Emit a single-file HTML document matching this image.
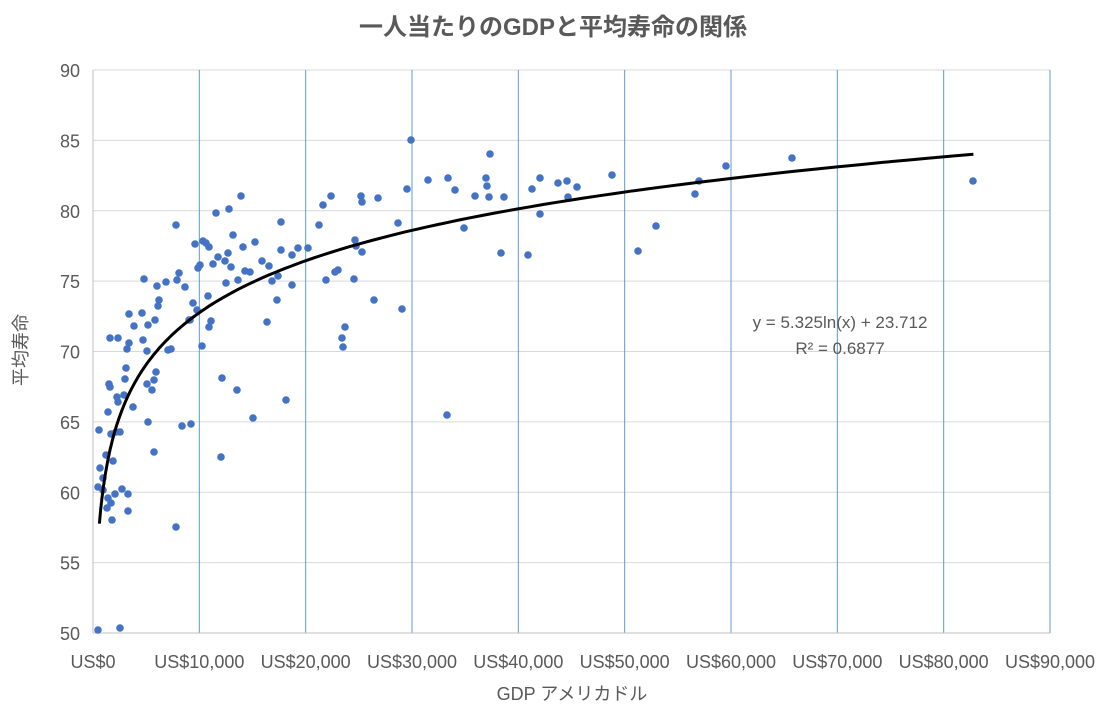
<!DOCTYPE html><html><head><meta charset="utf-8"><style>body{margin:0;background:#fff}svg{display:block}text{font-family:"Liberation Sans","Noto Sans CJK JP",sans-serif;fill:#595959}</style></head><body>
<svg id="s" width="1116" height="719" xmlns="http://www.w3.org/2000/svg">
<text x="553" y="35" text-anchor="middle" font-size="24" font-weight="bold">一人当たりのGDPと平均寿命の関係</text>
<g id="grid"></g>
<g id="pts" fill="#4472c4"></g>
<path id="trend" fill="none" stroke="#000" stroke-width="3"/>
<text x="840" y="328" text-anchor="middle" font-size="17">y = 5.325ln(x) + 23.712</text>
<text x="840" y="354" text-anchor="middle" font-size="17">R² = 0.6877</text>
<text id="xt" x="572" y="700" text-anchor="middle" font-size="18">GDP アメリカドル</text>
<text transform="translate(27,350) rotate(-90)" text-anchor="middle" font-size="18">平均寿命</text>
</svg>
<script>
var ns="http://www.w3.org/2000/svg",s=document.getElementById('s'),g=document.getElementById('grid');
function el(p,t,a,txt){var e=document.createElementNS(ns,t);for(var k in a)e.setAttribute(k,a[k]);if(txt!=null)e.textContent=txt;p.appendChild(e);return e}
var L=93,R=1050,T=70,B=633;
for(var i=0;i<=8;i++){var y=T+i*(B-T)/8;if(i<8)el(g,'line',{x1:L,x2:R,y1:y,y2:y,stroke:'#d9d9d9'});el(g,'text',{x:80,y:y+7,'text-anchor':'end','font-size':18},90-5*i)}
for(var i=0;i<=9;i++){var x=L+i*(R-L)/9;if(i>0)el(g,'line',{x1:x,x2:x,y1:T,y2:B,stroke:'#5b9bd5'});el(g,'text',{x:x,y:668,'text-anchor':'middle','font-size':18},'US$'+(i*10000).toLocaleString('en-US'))}
el(g,'line',{x1:L,x2:L,y1:T,y2:B,stroke:'#bfbfbf'});el(g,'line',{x1:L,x2:R,y1:B,y2:B,stroke:'#bfbfbf'});
var P=[98,630,120,628,99,430,98,487,100,468,103,490,103,478,106,455,107,508,108,498,108,412,109,384,110,387,110,338,111,503,111,434,112,520,113,461,115,494,116,432,117,397,118,402,118,338,120,432,122,489,124,395,125,379,126,368,127,349,128,494,128,511,129,343,129,314,133,407,134,326,142,313,143,340,144,279,147,384,147,351,148,422,148,325,152,390,154,380,154,452,155,320,156,372,157,286,158,306,159,300,166,282,168,350,171,349,176,527,176,225,177,280,179,273,182,426,185,287,189,320,190,320,191,424,193,303,195,244,197,310,198,268,200,265,202,346,203,241,206,243,208,296,209,247,209,327,211,321,213,264,216,213,218,257,221,457,222,378,225,261,226,283,228,253,229,209,231,267,233,235,237,390,238,280,241,196,243,247,245,271,250,272,255,242,253,418,262,261,267,322,269,266,272,281,277,300,278,276,281,222,281,250,286,400,292,285,292,255,298,248,308,248,319,225,323,205,326,280,331,196,335,272,338,270,342,338,343,347,345,327,354,279,355,240,356,246,361,196,362,202,362,252,374,300,378,198,398,223,402,309,407,189,411,140,428,180,447,415,448,178,455,190,464,228,475,196,486,178,487,186,489,197,490,154,504,197,501,253,528,255,532,189,540,214,540,178,558,183,567,181,568,197,577,187,612,175,638,251,656,226,695,194,699,181,726,166,792,158,973,181];
var pg=document.getElementById('pts');for(var i=0;i<P.length;i+=2)el(pg,'circle',{cx:P[i],cy:P[i+1],r:3.8});
var d='';for(var v=600;v<=82800;v*=1.03){var x=L+v*(R-L)/90000,y=B-(5.325*Math.log(v)+23.712-50)*(B-T)/40;d+=(d?'L':'M')+x.toFixed(1)+','+y.toFixed(1)}
var v=82800;d+='L'+(L+v*(R-L)/90000).toFixed(1)+','+(B-(5.325*Math.log(v)+23.712-50)*(B-T)/40).toFixed(1);
document.getElementById('trend').setAttribute('d',d);
</script></body></html>
